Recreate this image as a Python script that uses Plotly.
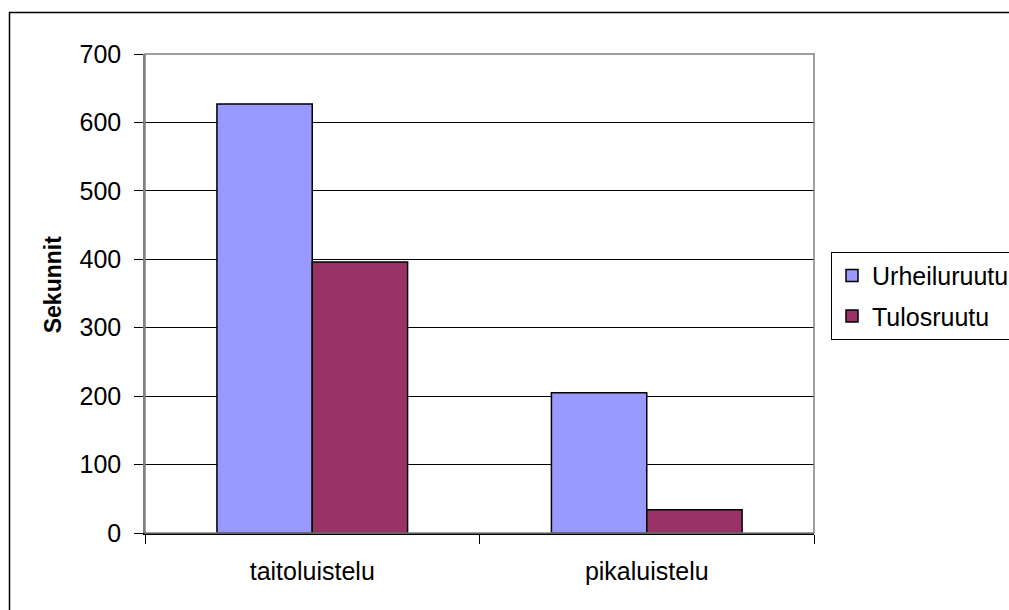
import plotly.graph_objects as go

categories = ["taitoluistelu", "pikaluistelu"]
urheiluruutu = [627, 205]
tulosruutu = [396, 34]
y_ticks = [0, 100, 200, 300, 400, 500, 600, 700]
y_title = "Sekunnit"

FONT = "Liberation Sans, Arial, sans-serif"
FS = 25

fig = go.Figure()
fig.add_trace(go.Bar(name="Urheiluruutu", x=categories, y=urheiluruutu,
                     marker=dict(color="#9999FF", line=dict(color="black", width=1.5)),
                     legendgroup="a"))
fig.add_trace(go.Bar(name="Tulosruutu", x=categories, y=tulosruutu,
                     marker=dict(color="#993366", line=dict(color="black", width=1.5)),
                     legendgroup="b"))

W, H = 1009, 610
L, R, T, B = 145, 195, 54, 76.5
pw, ph = W - L - R, H - T - B

def px2x(p):
    return (p - L) / pw

def px2y(p):
    return (H - B - p) / ph

shapes = [
    # plot area border (gray)
    dict(type="rect", xref="paper", yref="paper", x0=0, x1=1, y0=0, y1=1,
         line=dict(color="#808080", width=1.5), layer="above"),
    # outer chart border
    dict(type="rect", xref="paper", yref="paper", x0=px2x(9.5), x1=px2x(1100),
         y0=px2y(700), y1=px2y(12.5), line=dict(color="black", width=1.5)),
]

annotations = [
    dict(text="<b>" + y_title + "</b>", xref="paper", yref="paper",
         x=px2x(53), y=px2y(285.5), xanchor="center", yanchor="middle",
         textangle=-90, showarrow=False,
         font=dict(family=FONT, size=23, color="black")),
]

fig.update_layout(
    template="none",
    width=W, height=H,
    paper_bgcolor="white", plot_bgcolor="white",
    margin=dict(l=L, r=R, t=T, b=B, autoexpand=False),
    font=dict(family=FONT, size=FS, color="black"),
    barmode="group", bargap=0.43, bargroupgap=0,
    showlegend=True,
    legend=dict(x=px2x(831), y=px2y(252), xanchor="left", yanchor="top",
                bordercolor="black", borderwidth=1, bgcolor="white",
                font=dict(family=FONT, size=FS, color="black"),
                traceorder="grouped", tracegroupgap=5),
    shapes=shapes,
    annotations=annotations,
    xaxis=dict(showgrid=False, showline=True, linecolor="black", linewidth=1.5,
               ticks="outside", tickson="boundaries", ticklen=9, tickcolor="black",
               tickwidth=1, automargin=False, ticklabelstandoff=15,
               tickfont=dict(family=FONT, size=FS)),
    yaxis=dict(range=[0, 700], tickvals=y_ticks, showgrid=True, gridcolor="black",
               gridwidth=1, zeroline=False, showline=True, linecolor="#808080",
               linewidth=1.5, ticks="outside", ticklen=9, tickcolor="black",
               tickwidth=1, automargin=False, ticklabelstandoff=8,
               tickfont=dict(family=FONT, size=FS)),
)

fig.write_html("out.html", config={"displayModeBar": False},
               post_script="document.body.style.margin='0';document.body.style.overflow='hidden';")
